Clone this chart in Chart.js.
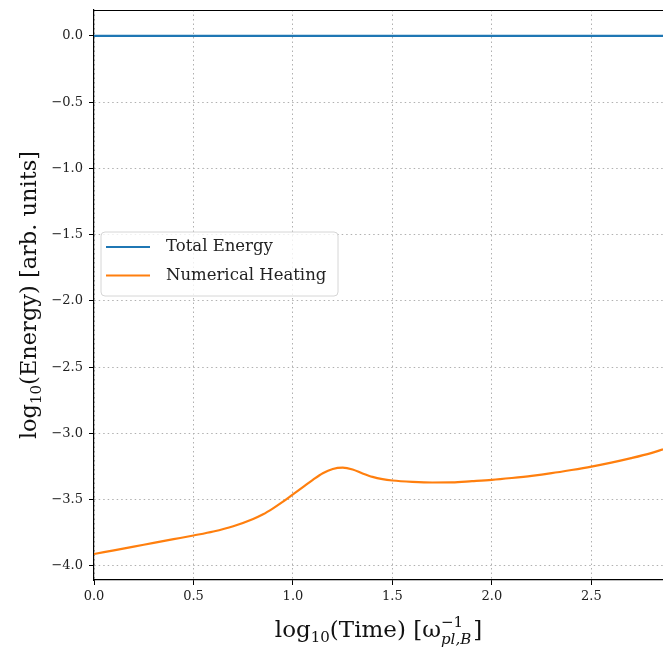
<!DOCTYPE html>
<html>
<head>
<meta charset="utf-8">
<script src="https://cdn.jsdelivr.net/npm/chart.js@4.4.0/dist/chart.umd.min.js"></script>
<style>
  html, body { margin: 0; padding: 0; background: #fff; }
  canvas { display: block; }
</style>
</head>
<body>
<canvas id="energyChart" width="663" height="650"></canvas>
<script>
// values
var timeLog = [0, 0.1, 0.2, 0.3, 0.4, 0.5, 0.6, 0.7, 0.8, 0.85, 0.9, 0.95, 1.0, 1.05, 1.1, 1.15,
    1.2, 1.25, 1.3, 1.35, 1.4, 1.45, 1.5, 1.6, 1.7, 1.8, 1.9, 2.0, 2.1, 2.2, 2.3, 2.4, 2.5, 2.6, 2.7, 2.8, 2.86];
var heating = [-3.91, -3.882, -3.854, -3.826, -3.798, -3.77, -3.74, -3.70, -3.645, -3.61, -3.565, -3.515, -3.46, -3.405,
    -3.35, -3.30, -3.268, -3.258, -3.272, -3.302, -3.328, -3.345, -3.355, -3.365, -3.37, -3.369, -3.36, -3.35,
    -3.336, -3.32, -3.30, -3.276, -3.25, -3.22, -3.186, -3.148, -3.12];
var totalTime = [0, 2.86];
var totalEnergy = [0.0, 0.0];
var xTicks = [0, 0.5, 1.0, 1.5, 2.0, 2.5];
var yTicks = [-4.0, -3.5, -3.0, -2.5, -2.0, -1.5, -1.0, -0.5, 0];
var seriesNames = ['Total Energy', 'Numerical Heating'];

var serif = '"DejaVu Serif", "Liberation Serif", serif';

function toPoints(xs, ys) {
    return xs.map(function (x, i) { return { x: x, y: ys[i] }; });
}

function fmt(v) {
    return (v < 0 ? '\u2212' : '') + Math.abs(v).toFixed(1);
}

// white page, top frame line, legend box, axis titles with subscripts
var decor = {
    id: 'decor',
    beforeDraw: function (chart) {
        var ctx = chart.ctx;
        ctx.save();
        ctx.fillStyle = '#fff';
        ctx.fillRect(0, 0, chart.width, chart.height);
        ctx.restore();
    },
    afterDraw: function (chart) {
        var ctx = chart.ctx;
        var a = chart.chartArea;
        ctx.save();

        // top frame
        ctx.strokeStyle = '#000';
        ctx.lineWidth = 1.2;
        ctx.beginPath();
        ctx.moveTo(a.left, a.top + 0.5);
        ctx.lineTo(a.right, a.top + 0.5);
        ctx.stroke();

        // legend
        var lx = 101, ly = 232, lw = 237, lh = 64, r = 4;
        ctx.beginPath();
        ctx.moveTo(lx + r, ly);
        ctx.arcTo(lx + lw, ly, lx + lw, ly + lh, r);
        ctx.arcTo(lx + lw, ly + lh, lx, ly + lh, r);
        ctx.arcTo(lx, ly + lh, lx, ly, r);
        ctx.arcTo(lx, ly, lx + lw, ly, r);
        ctx.closePath();
        ctx.fillStyle = 'rgba(255,255,255,0.8)';
        ctx.fill();
        ctx.lineWidth = 1;
        ctx.strokeStyle = '#d6d6d6';
        ctx.stroke();

        ctx.font = '16.5px ' + serif;
        ctx.textBaseline = 'middle';
        chart.data.datasets.forEach(function (ds, i) {
            var yy = 247 + i * 28.5;
            ctx.strokeStyle = ds.borderColor;
            ctx.lineWidth = 2;
            ctx.beginPath();
            ctx.moveTo(106, yy);
            ctx.lineTo(150, yy);
            ctx.stroke();
            ctx.fillStyle = '#222';
            ctx.fillText(ds.label, 166, yy);
        });

        // axis titles
        ctx.fillStyle = '#111';
        ctx.textBaseline = 'alphabetic';
        drawRich(ctx, [
            ['log', 23, 0], ['10', 15, 5], ['(Time) [\u03c9', 23, 0], ['\u22121', 15, -10]
        ], (a.left + a.right) / 2, 637, ['pl,B', 15, 7], ']');

        ctx.save();
        ctx.translate(36, (a.top + a.bottom) / 2);
        ctx.rotate(-Math.PI / 2);
        drawRich(ctx, [
            ['log', 22.5, 0], ['10', 15, 5], ['(Energy) [arb. units]', 22.5, 0]
        ], 0, 0);
        ctx.restore();

        ctx.restore();
    }
};

// draws pieces [text, size, baselineShift] centred on cx; optional italic subscript under the last piece
function drawRich(ctx, parts, cx, baseY, under, tail) {
    var widths = parts.map(function (p) {
        ctx.font = p[1] + 'px ' + serif;
        return ctx.measureText(p[0]).width;
    });
    var underW = 0, tailW = 0;
    if (under) {
        ctx.font = 'italic ' + under[1] + 'px ' + serif;
        underW = ctx.measureText(under[0]).width;
        ctx.font = parts[0][1] + 'px ' + serif;
        tailW = ctx.measureText(tail).width;
    }
    var lastW = widths[widths.length - 1];
    var total = widths.reduce(function (s, w) { return s + w; }, 0);
    if (under) total += Math.max(0, underW - lastW) + tailW + 2;
    var x = cx - total / 2;
    parts.forEach(function (p, i) {
        ctx.font = p[1] + 'px ' + serif;
        ctx.textAlign = 'left';
        ctx.fillText(p[0], x, baseY + p[2]);
        if (i < parts.length - 1) x += widths[i];
    });
    if (under) {
        ctx.font = 'italic ' + under[1] + 'px ' + serif;
        ctx.fillText(under[0], x, baseY + under[2]);
        x += Math.max(lastW, underW) + 2;
        ctx.font = parts[0][1] + 'px ' + serif;
        ctx.fillText(tail, x, baseY);
    }
}

new Chart(document.getElementById('energyChart'), {
    type: 'line',
    data: {
        datasets: [{
            label: seriesNames[0],
            data: toPoints(totalTime, totalEnergy),
            borderColor: '#1f77b4',
            borderWidth: 2.2,
            pointRadius: 0
        }, {
            label: seriesNames[1],
            data: toPoints(timeLog, heating),
            borderColor: '#ff7f0e',
            borderWidth: 2.2,
            pointRadius: 0,
            cubicInterpolationMode: 'monotone'
        }]
    },
    options: {
        responsive: false,
        animation: false,
        layout: { padding: { top: 10, right: 0, left: 0, bottom: 0 } },
        plugins: {
            legend: { display: false },
            tooltip: { enabled: false }
        },
        scales: {
            x: {
                type: 'linear',
                min: 0,
                max: 2.86,
                afterBuildTicks: function (scale) {
                    scale.ticks = xTicks.map(function (v) { return { value: v }; });
                },
                afterFit: function (scale) {
                    scale.height = 70;
                    scale.paddingLeft = 0;
                    scale.paddingRight = 0;
                },
                ticks: {
                    callback: fmt,
                    color: '#222',
                    font: { family: serif, size: 13 },
                    padding: 4,
                    maxRotation: 0
                },
                grid: {
                    color: '#b0b0b0',
                    tickColor: '#000',
                    tickLength: 5,
                    lineWidth: 1
                },
                border: { color: '#000', width: 1.2, dash: [1.5, 3] }
            },
            y: {
                type: 'linear',
                min: -4.106,
                max: 0.196,
                afterBuildTicks: function (scale) {
                    scale.ticks = yTicks.map(function (v) { return { value: v }; });
                },
                afterFit: function (scale) {
                    scale.width = 94;
                    scale.paddingTop = 0;
                    scale.paddingBottom = 0;
                },
                ticks: {
                    callback: fmt,
                    color: '#222',
                    font: { family: serif, size: 13 },
                    padding: 6
                },
                grid: {
                    color: '#b0b0b0',
                    tickColor: '#000',
                    tickLength: 5,
                    lineWidth: 1
                },
                border: { color: '#000', width: 1.2, dash: [1.5, 3] }
            }
        }
    },
    plugins: [decor]
});
</script>
</body>
</html>
